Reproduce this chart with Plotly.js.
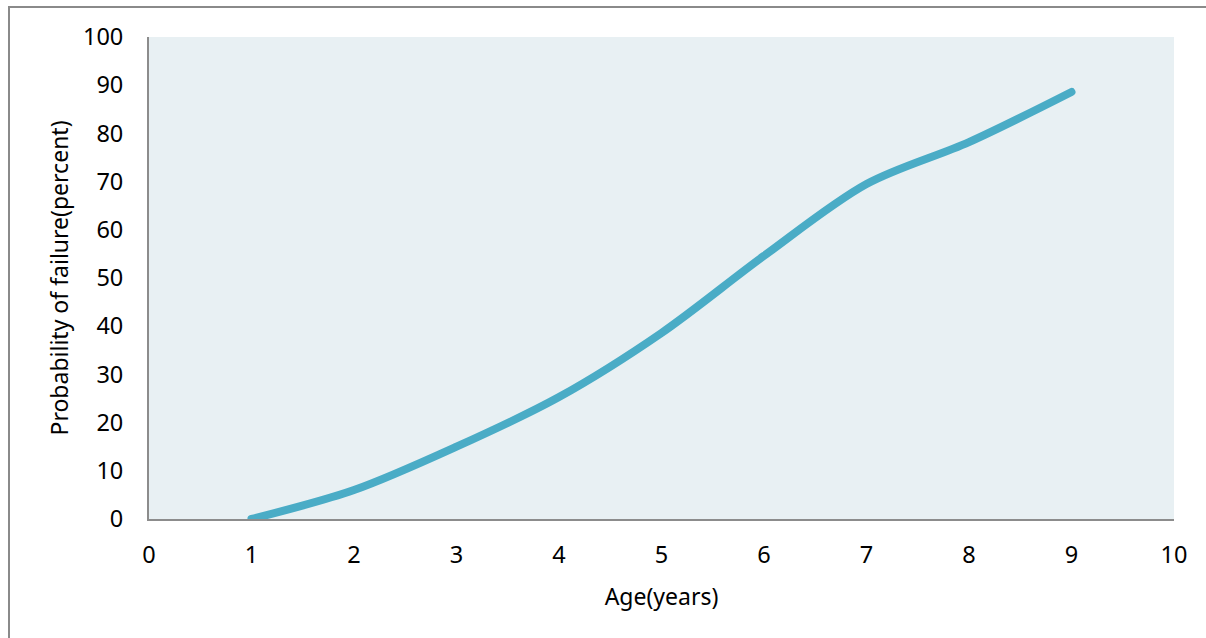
<!DOCTYPE html>
<html>
<head>
<meta charset="utf-8">
<script src="https://cdn.plot.ly/plotly-3.0.1.min.js"></script>
<style>
  html, body { margin: 0; padding: 0; background: #ffffff; overflow: hidden; }
  #frame { position: absolute; left: 8px; top: 6px; width: 1400px; height: 900px;
           border-left: 2px solid #8a8a8a; border-top: 2px solid #8a8a8a; }
  #chart { position: absolute; left: 0; top: 0; width: 1206px; height: 638px; }
  #chart path.js-line { stroke-linecap: round; }
</style>
</head>
<body>
<div id="frame"></div>
<div id="chart"></div>
<script>
const ageYears = [1, 2, 3, 4, 5, 6, 7, 8, 9];
const failureProbability = [0, 6, 15, 25.3, 38.6, 54.6, 69.5, 78.2, 88.6];
const xTickValues = [0, 1, 2, 3, 4, 5, 6, 7, 8, 9, 10];
const yTickValues = [0, 10, 20, 30, 40, 50, 60, 70, 80, 90, 100];

const fontFamily = '"Noto Sans", "Open Sans", "Liberation Sans", sans-serif';

const trace = {
  x: ageYears,
  y: failureProbability,
  type: 'scatter',
  mode: 'lines',
  line: { color: '#4aacc6', width: 8, shape: 'spline', smoothing: 0.9 },
  hoverinfo: 'x+y'
};

const layout = {
  width: 1206,
  height: 638,
  margin: { l: 149, r: 32, t: 37, b: 119, pad: 0 },
  paper_bgcolor: 'rgba(0,0,0,0)',
  plot_bgcolor: '#e8f0f3',
  showlegend: false,
  font: { family: fontFamily, size: 23, color: '#000000' },
  xaxis: {
    range: [0, 10],
    tickvals: xTickValues,
    ticktext: xTickValues.map(String),
    showgrid: false,
    zeroline: false,
    showline: true,
    linecolor: '#8c8c8c',
    linewidth: 2,
    ticks: '',
    ticklabelstandoff: 14,
    tickfont: { family: fontFamily, size: 23.5, color: '#000000' },
    title: { text: 'Age(years)', font: { family: fontFamily, size: 23, color: '#000000' }, standoff: 20 }
  },
  yaxis: {
    range: [0, 100],
    tickvals: yTickValues,
    ticktext: yTickValues.map(String),
    showgrid: false,
    zeroline: false,
    showline: true,
    linecolor: '#8c8c8c',
    linewidth: 2,
    ticks: '',
    ticklabelstandoff: 19,
    tickfont: { family: fontFamily, size: 23.5, color: '#000000' },
    title: { text: 'Probability of failure(percent)', font: { family: fontFamily, size: 23, color: '#000000' }, standoff: 8 }
  }
};

Plotly.newPlot('chart', [trace], layout, { displayModeBar: false }).then(function (gd) {
  gd.querySelectorAll('path.js-line').forEach(function (p) { p.style.strokeLinecap = 'round'; });
});
</script>
</body>
</html>
